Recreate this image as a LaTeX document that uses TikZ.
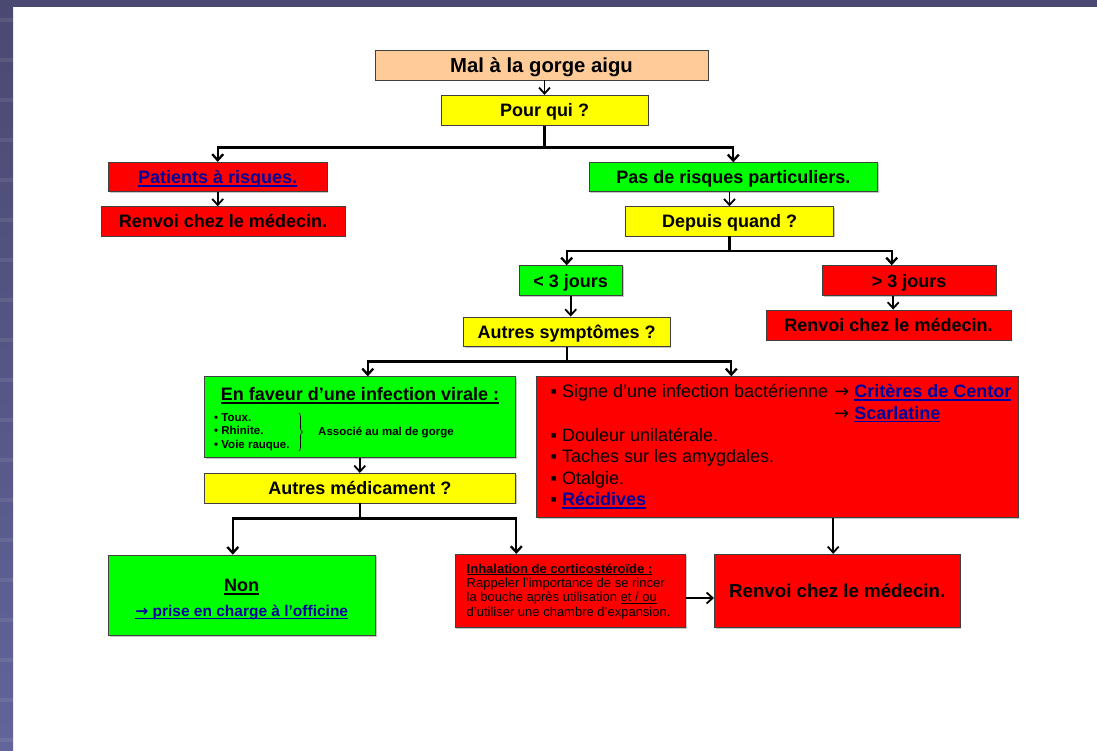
\documentclass[tikz,border=0pt]{standalone}
\usepackage{fontspec}
\setmainfont{Liberation Sans}
\newfontfamily\symboles{DejaVu Sans}
\usetikzlibrary{arrows.meta,shadows,decorations.pathreplacing}
\definecolor{peche}{HTML}{FFCC99}
\definecolor{jaune}{HTML}{FFFF00}
\definecolor{rouge}{HTML}{FF0000}
\definecolor{vert}{HTML}{00FF00}
\definecolor{bleulien}{HTML}{0000A0}
\definecolor{cadre}{HTML}{4A4971}
\definecolor{cadrebas}{HTML}{62649A}
\newcommand{\souligne}[1]{\setbox0\hbox{#1}\rlap{\rule[-0.17em]{\wd0}{0.075em}}\box0}
\newcommand{\lienbleu}[1]{{\bfseries\color{bleulien}\souligne{#1}}}
\newcommand{\versla}{{\symboles\mdseries →}}
\tikzset{
  boite/.style={draw=black!75, line width=0.8pt, inner sep=0pt, align=center,
    drop shadow={shadow xshift=1.2pt, shadow yshift=-1.2pt, fill=black!45}},
  gras/.style={font=\fontsize{18}{21}\selectfont\bfseries, text height=13pt, text depth=0pt},
  texte/.style={font=\fontsize{18}{21}\selectfont, inner sep=0pt, anchor=base west},
  petit/.style={font=\fontsize{11.5}{13.7}\selectfont\bfseries, inner sep=0pt},
  fleche/.style={line width=1.8pt, -{Straight Barb[length=6pt,width=11pt]}},
  branche/.style={fleche, line width=2.3pt},
}

\begin{document}
\begin{tikzpicture}[x=1pt, y=-1pt]
	\fill[white] (0,0) rectangle (1097,751);
	\useasboundingbox (0,0) rectangle (1097,751);
	\fill[cadre] (0,0) rectangle (1097,6.7);
	\shade[top color=cadre, bottom color=cadrebas] (0,0) rectangle (13,751);
	\foreach \y in {20,60,...,740} \fill[white, opacity=0.08] (0,\y-2) rectangle (13,\y+2);

	\node[boite, fill=peche, minimum width=333pt, minimum height=29.5pt, font=\fontsize{20.3}{23}\selectfont\bfseries, text height=14.5pt, text depth=0pt] (mal) at (541.5,65.3) {Mal à la gorge aigu};
	\node[boite, fill=jaune, gras, minimum width=207pt, minimum height=30pt] (pourqui) at (544.5,110.3) {Pour qui ?};
	\node[boite, fill=rouge, gras, minimum width=218.7pt, minimum height=29.4pt] (patients) at (217.7,177) {\lienbleu{Patients à risques.}};
	\node[boite, fill=rouge, gras, minimum width=244pt, minimum height=29.3pt] (renvoiA) at (223,221.3) {Renvoi chez le médecin.};
	\node[boite, fill=vert, gras, minimum width=288.7pt, minimum height=29pt] (pasrisque) at (733.3,177.2) {Pas de risques particuliers.};
	\node[boite, fill=jaune, gras, minimum width=207.6pt, minimum height=29.3pt] (depuis) at (729.5,221.3) {Depuis quand ?};
	\node[boite, fill=vert, gras, minimum width=103.3pt, minimum height=30pt] (moins3) at (570.7,280.7) {< 3 jours};
	\node[boite, fill=rouge, gras, minimum width=173.7pt, minimum height=30pt] (plus3) at (909.2,280.7) {> 3 jours};
	\node[boite, fill=jaune, gras, minimum width=206.7pt, minimum height=29.7pt] (autressympt) at (566.7,331.8) {Autres symptômes ?};
	\node[boite, fill=rouge, gras, minimum width=245pt, minimum height=30pt] (renvoiB) at (888.5,325) {Renvoi chez le médecin.};

	\node[boite, fill=vert, minimum width=311pt, minimum height=81pt] (faveur) at (359.8,417.2) {};
	\node[gras, inner sep=0pt] (faveurtitre) at (360,394) {\souligne{En faveur d’une infection virale :}};
	\node[petit, anchor=west, align=left] (symptomes) at (214,432) {• Toux.\\ • Rhinite.\\ • Voie rauque.};
	\draw[line width=0.7pt, decorate, decoration={brace, amplitude=3.5pt}] ([xshift=9pt]symptomes.north east) -- ([xshift=9pt]symptomes.south east);
	\node[petit, anchor=west] (associe) at (318,432) {Associé au mal de gorge};
	\node[boite, fill=jaune, gras, minimum width=311pt, minimum height=29.7pt] (autresmed) at (359.8,488.2) {Autres médicament ?};

	\node[boite, fill=rouge, minimum width=481.3pt, minimum height=140.6pt] (bact) at (777.3,447) {};
	\node[texte] (signe) at (550.5,397.5) {▪ Signe d’une infection bactérienne};
	\node[texte] (centor) at (834,397.5) {\versla\ \lienbleu{Critères de Centor}};
	\node[texte] (scarlatine) at (834,419) {\versla\ \lienbleu{Scarlatine}};
	\node[texte] (douleur) at (550.5,441) {▪ Douleur unilatérale.};
	\node[texte] (taches) at (550.5,462.5) {▪ Taches sur les amygdales.};
	\node[texte] (otalgie) at (550.5,484) {▪ Otalgie.};
	\node[texte] (recidives) at (550.5,505.5) {▪ \lienbleu{Récidives}};

	\node[boite, fill=vert, minimum width=267pt, minimum height=80.3pt] (non) at (241.8,595.2) {};
	\node[gras, inner sep=0pt] (nontitre) at (241.7,585) {\souligne{Non}};
	\node[inner sep=0pt, font=\fontsize{15.5}{18}\selectfont, text height=11pt, text depth=0pt] (officine) at (241.7,610.7) {\lienbleu{{\symboles\bfseries →} prise en charge à l’officine}};
	\node[boite, fill=rouge, minimum width=230.7pt, minimum height=73.4pt] (inhal) at (570.3,591) {};
	\node[anchor=west, align=left, inner sep=0pt, font=\fontsize{13}{14.4}\selectfont] (inhaltexte) at (466.5,591.2) {{\bfseries\souligne{Inhalation de corticostéroïde :}}\\ Rappeler l’importance de se rincer\\ la bouche après utilisation \souligne{et / ou}\\ d’utiliser une chambre d’expansion.};
	\node[boite, fill=rouge, minimum width=245.7pt, minimum height=73.4pt, font=\fontsize{18.7}{22}\selectfont\bfseries, text height=13.5pt, text depth=0pt] (renvoiC) at (837.2,591) {Renvoi chez le médecin.};

	\draw[fleche] (pourqui.north |- mal.south) -- (pourqui.north);
	\draw[branche] (pourqui.south) -- ++(0,21.7) -| (patients.north);
	\draw[branche] (pourqui.south) -- ++(0,21.7) -| (pasrisque.north);
	\draw[fleche] (patients.south) -- (patients.south |- renvoiA.north);
	\draw[fleche] (depuis.north |- pasrisque.south) -- (depuis.north);
	\draw[branche] (depuis.south) -- ++(0,14.7) -| ([xshift=-4pt]moins3.north);
	\draw[branche] (depuis.south) -- ++(0,14.7) -| ([xshift=-17.5pt]plus3.north);
	\draw[fleche] (moins3.south) -- (moins3.south |- autressympt.north);
	\draw[fleche] ([xshift=-16pt]plus3.south) -- ([xshift=-16pt]plus3.south |- renvoiB.north);
	\draw[branche] (autressympt.south) -- ++(0,14.3) -| ([xshift=8pt]faveur.north);
	\draw[branche] (autressympt.south) -- ++(0,14.3) -| ([xshift=-46pt]bact.north);
	\draw[fleche] (faveur.south) -- (autresmed.north);
	\draw[branche] (autresmed.south) -- ++(0,15) -| ([xshift=-9pt]non.north);
	\draw[branche] (autresmed.south) -- ++(0,15) -| ([xshift=-54pt]inhal.north);
	\draw[fleche] ([xshift=-4pt]renvoiC.north |- bact.south) -- ([xshift=-4pt]renvoiC.north);
	\draw[fleche] ([yshift=-7pt]inhal.east) -- ([yshift=-7pt]inhal.east -| renvoiC.west);
\end{tikzpicture}
\end{document}
